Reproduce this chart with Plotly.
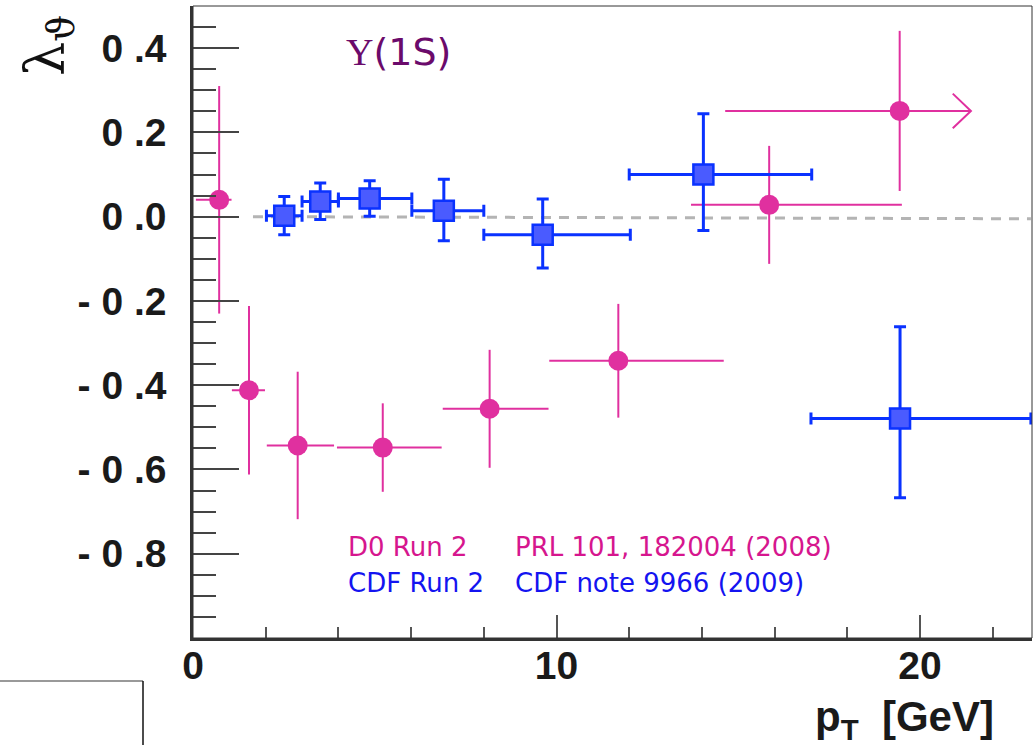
import plotly.graph_objects as go

# ---------------- data ----------------
# D0 Run 2 (PRL 101, 182004 (2008))
d0_pt      = [0.72, 1.54, 2.88, 5.22, 8.16, 11.70, 15.85, 19.44]
d0_pt_lo   = [0.64, 0.47, 0.85, 1.26, 1.29, 1.90, 2.15, 4.80]
d0_pt_hi   = [0.34, 0.44, 1.00, 1.62, 1.62, 2.90, 3.65, 1.96]
d0_lam     = [0.040, -0.412, -0.543, -0.548, -0.456, -0.342, 0.028, 0.251]
d0_err     = [0.270, 0.200, 0.175, 0.105, 0.140, 0.135, 0.140, 0.190]

# CDF Run 2 (CDF note 9966 (2009))
cdf_pt     = [2.51, 3.50, 4.86, 6.90, 9.62, 14.04, 19.45]
cdf_pt_lo  = [0.49, 0.50, 0.86, 0.88, 1.62, 2.04, 2.45]
cdf_pt_hi  = [0.49, 0.50, 1.16, 1.10, 2.41, 2.98, 3.60]
cdf_lam    = [0.002, 0.036, 0.043, 0.014, -0.043, 0.100, -0.479]
cdf_err_hi = [0.046, 0.044, 0.042, 0.075, 0.085, 0.144, 0.218]
cdf_err_lo = [0.045, 0.043, 0.042, 0.071, 0.079, 0.133, 0.188]

# reference (dashed) line
ref_x = [1.65, 23.05]
ref_y = [0.0, -0.005]

# axis tick labels
y_tickvals = [-0.8, -0.6, -0.4, -0.2, 0.0, 0.2, 0.4]
y_ticktext = ["- 0 .8", "- 0 .6", "- 0 .4", "- 0 .2", "0 .0", "0 .2", "0 .4"]
x_tickvals = [0, 10, 20]
x_ticktext = ["0", "10", "20"]

# ---------------- styling ----------------
MAG = "#E0309F"
BLUE_LINE = "#0A32FF"
BLUE_FILL = "#4A5BFF"
W, H = 1034, 745
L, R, T, B = 193, 2, 6, 107
PW, PH = W - L - R, H - T - B


def px(xp):
    return (xp - L) / PW


def py(yp):
    return (H - B - yp) / PH


fig = go.Figure()

fig.add_trace(go.Scatter(
    x=ref_x, y=ref_y, mode="lines",
    line=dict(color="#B4B4B4", width=3, dash="10px,8px"),
    hoverinfo="skip", showlegend=False))

fig.add_trace(go.Scatter(
    x=d0_pt, y=d0_lam, mode="markers",
    marker=dict(symbol="circle", size=20, color=MAG, line=dict(width=0)),
    error_x=dict(type="data", symmetric=False, array=d0_pt_hi, arrayminus=d0_pt_lo,
                 color=MAG, thickness=2, width=0),
    error_y=dict(type="data", array=d0_err, color=MAG, thickness=2, width=0),
    showlegend=False))

# arrow on the last D0 bin (open-ended pT bin)
tip = d0_pt[-1] + d0_pt_hi[-1]
yl = d0_lam[-1]
fig.add_trace(go.Scatter(
    x=[tip - 0.5, tip, tip - 0.5], y=[yl + 0.041, yl, yl - 0.041], mode="lines",
    line=dict(color=MAG, width=2), hoverinfo="skip", showlegend=False))

fig.add_trace(go.Scatter(
    x=cdf_pt, y=cdf_lam, mode="markers",
    marker=dict(symbol="square", size=20, color=BLUE_FILL,
                line=dict(width=2.5, color=BLUE_LINE)),
    error_x=dict(type="data", symmetric=False, array=cdf_pt_hi, arrayminus=cdf_pt_lo,
                 color=BLUE_LINE, thickness=3, width=6),
    error_y=dict(type="data", symmetric=False, array=cdf_err_hi, arrayminus=cdf_err_lo,
                 color=BLUE_LINE, thickness=3, width=6),
    showlegend=False))

TXT = "DejaVu Sans"
ann = [
    dict(text="<span style='font-family:Liberation Serif'>Υ</span>(1S)",
         x=px(344), y=py(52), xanchor="left", yanchor="middle",
         font=dict(family=TXT, size=38, color="#6B0A6B")),
    dict(text="D0 Run 2", x=px(346), y=py(547), xanchor="left", yanchor="middle",
         font=dict(family=TXT, size=26, color="#D6168E")),
    dict(text="PRL 101, 182004 (2008)", x=px(513), y=py(547), xanchor="left", yanchor="middle",
         font=dict(family=TXT, size=26, color="#D6168E")),
    dict(text="CDF Run 2", x=px(346), y=py(583), xanchor="left", yanchor="middle",
         font=dict(family=TXT, size=26, color="#1414F0")),
    dict(text="CDF note 9966 (2009)", x=px(513), y=py(583), xanchor="left", yanchor="middle",
         font=dict(family=TXT, size=26, color="#1414F0")),
    dict(text="<b>p<sub>T</sub>  [GeV]</b>", x=px(996), y=py(719), xanchor="right", yanchor="middle",
         font=dict(family="Liberation Sans", size=42, color="#1a1a1a")),
    dict(text="λ<sub>ϑ</sub>", x=px(48), y=py(46), xanchor="center", yanchor="middle",
         textangle=-90, font=dict(family="DejaVu Serif", size=54, color="#111111")),
]
for a in ann:
    a.update(xref="paper", yref="paper", showarrow=False)

fig.update_layout(
    width=W, height=H,
    margin=dict(l=L, r=R, t=T, b=B),
    paper_bgcolor="white", plot_bgcolor="white",
    annotations=ann,
    shapes=[
        dict(type="rect", xref="paper", yref="paper", x0=0, x1=1, y0=0, y1=1,
             line=dict(color="#333333", width=1), layer="above"),
        dict(type="line", xref="paper", yref="paper", x0=px(0), x1=px(143), y0=py(681), y1=py(681),
             line=dict(color="#777777", width=1.5)),
        dict(type="line", xref="paper", yref="paper", x0=px(143), x1=px(143), y0=py(681), y1=py(746),
             line=dict(color="#111111", width=1.5)),
    ],
    xaxis=dict(range=[0, 23.08], showgrid=False, zeroline=False,
               showline=True, linewidth=2.5, linecolor="#333333",
               tickmode="array", tickvals=x_tickvals, ticktext=x_ticktext,
               ticks="inside", ticklen=23, tickwidth=1.5, tickcolor="#555555",
               ticklabelstandoff=-9,
               tickfont=dict(family="Liberation Sans", size=39, color="#1a1a1a", weight="bold"),
               minor=dict(tickmode="linear", tick0=0, dtick=2, ticks="inside", ticklen=11,
                          tickwidth=1.5, tickcolor="#555555")),
    yaxis=dict(range=[-1.0, 0.5], showgrid=False, zeroline=False,
               showline=True, linewidth=2.5, linecolor="#333333",
               tickmode="array", tickvals=y_tickvals, ticktext=y_ticktext,
               ticks="inside", ticklen=46, tickwidth=1.5, tickcolor="#444444",
               ticklabelstandoff=16,
               tickfont=dict(family="Liberation Sans", size=39, color="#1a1a1a", weight="bold"),
               minor=dict(tickmode="linear", tick0=0, dtick=0.05, ticks="inside", ticklen=23,
                          tickwidth=1.5, tickcolor="#444444")),
)

fig.write_html("out.html")
